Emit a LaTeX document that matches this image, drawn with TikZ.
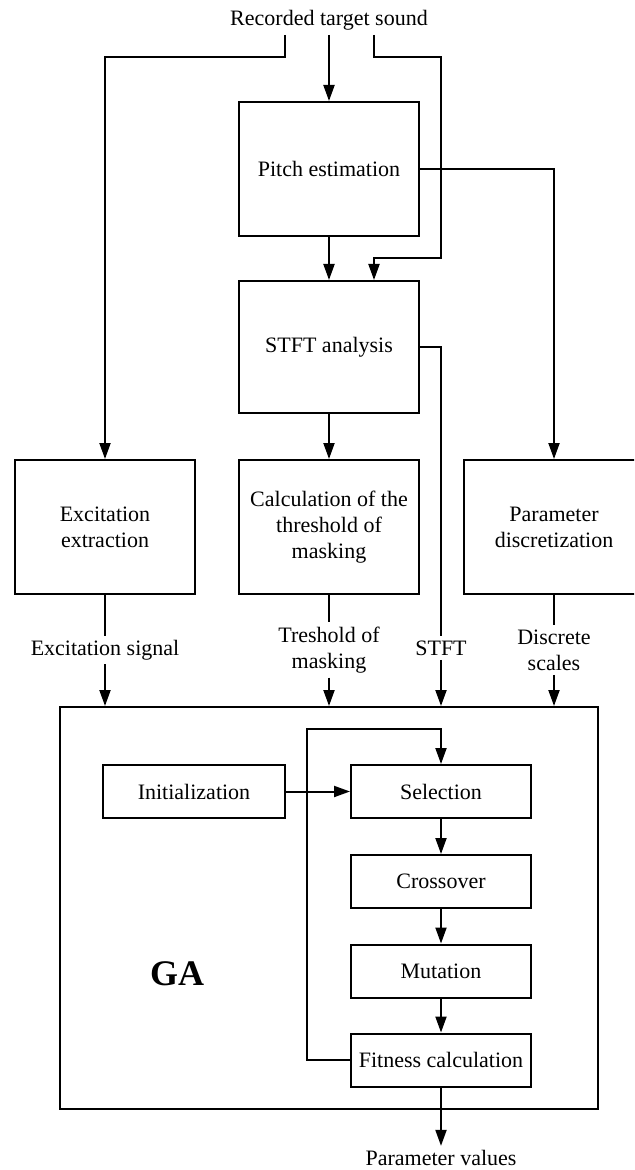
\documentclass[tikz,border=0pt]{standalone}
\usepackage{fontspec}
\setmainfont{Liberation Serif}
\usetikzlibrary{arrows.meta,positioning}

\tikzset{
  txt/.style={font=\fontsize{11}{13}\selectfont},
  blk/.style={txt, draw, line width=1pt, minimum width=90pt, minimum height=67pt, align=center, inner sep=2pt},
  gablk/.style={txt, draw, line width=1pt, minimum width=90pt, minimum height=26.5pt, inner sep=2pt},
  lbl/.style={txt, inner sep=2pt, align=center},
  conn/.style={line width=1pt},
  arr/.style={conn, -{Triangle[length=8pt,width=5.5pt]}}
}

\begin{document}
\begin{tikzpicture}[x=0.5pt, y=-0.5pt]
\path[use as bounding box, clip] (0,0) rectangle (634,1170);

% analysis part
\node[lbl, anchor=south] (title) at (329,35) {Recorded target sound};
\node[blk] (pitch) at (329,169) {Pitch estimation};
\node[blk, minimum height=66pt] (stft) at (329,347) {STFT analysis};
\node[blk] (excit) at (105,527) {Excitation\\extraction};
\node[blk] (calc) at (329,527) {Calculation of the\\threshold of\\masking};
\node[blk] (param) at (554,527) {Parameter\\discretization};

\node[lbl] (exsig) at (105,650) {Excitation signal};
\node[lbl] (thrlbl) at (329,650) {Treshold of\\masking};
\node[lbl] (stftlbl) at (441,648) {STFT};
\node[lbl] (disclbl) at (554,650) {Discrete\\scales};

% GA part
\node[draw, line width=1pt, minimum width=269pt, minimum height=201pt] (ga) at (329,908) {};
\node[font=\fontsize{18}{20}\selectfont\bfseries] (galbl) at (177,974) {GA};
\node[gablk, minimum width=91pt] (init) at (194,791.5) {Initialization};
\node[gablk] (sel) at (441,791.5) {Selection};
\node[gablk] (cross) at (441,881.5) {Crossover};
\node[gablk] (mut) at (441,971) {Mutation};
\node[gablk] (fit) at (441,1060) {Fitness calculation};
\node[lbl] (parval) at (441,1158) {Parameter values};
\coordinate (looptop) at (307,729);
\coordinate (rturn) at (441,258);

% connectors
\draw[arr] ([xshift=-22pt]title.south) -- ++(0,22) -| (excit.north);
\draw[arr] (title.south) -- (pitch.north);
\draw[arr] ([xshift=22.5pt]title.south) -- ++(0,22) -| (rturn) -| ([xshift=22.5pt]stft.north);
\draw[arr] (pitch) -- (stft);
\draw[arr] (pitch.east) -| (param.north);
\draw[arr] (stft) -- (calc);

\draw[conn] (excit.south) -- (exsig.north);
\draw[conn] (calc.south) -- (thrlbl.north);
\draw[conn] (stft.east) -| (stftlbl.north);
\draw[conn] (param.south) -- (disclbl.north);
\draw[arr] (exsig.south) -- (exsig.south |- ga.north);
\draw[arr] (thrlbl.south) -- (thrlbl.south |- ga.north);
\draw[arr] (stftlbl.south) -- (stftlbl.south |- ga.north);
\draw[arr] (disclbl.south) -- (disclbl.south |- ga.north);

\draw[arr] (init) -- (sel);
\draw[arr] (sel) -- (cross);
\draw[arr] (cross) -- (mut);
\draw[arr] (mut) -- (fit);
\draw[arr] (fit.west) -| (looptop) -| (sel.north);
\draw[arr] (fit) -- (parval);
\end{tikzpicture}
\end{document}
